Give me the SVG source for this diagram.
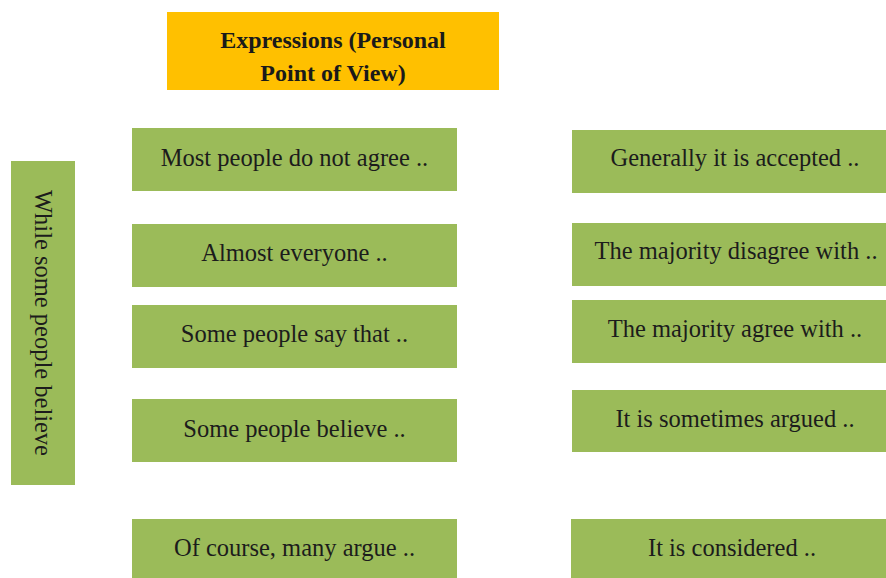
<svg xmlns="http://www.w3.org/2000/svg" width="886" height="578" viewBox="0 0 886 578">
<style>
.box{fill:#9BBB59;}
.t{font-family:'Liberation Serif','Times New Roman','DejaVu Serif',serif;font-size:24.5px;fill:#1c1c1c;text-anchor:middle;}
.title{font-family:'Liberation Serif','Times New Roman','DejaVu Serif',serif;font-size:24px;font-weight:bold;fill:#1a1a1a;text-anchor:middle;}
</style>
<rect width="886" height="578" fill="#ffffff"/>
<g id="title">
<rect x="167" y="12" width="332" height="78" fill="#FFC000"/>
<text class="title" x="333" y="48">Expressions (Personal</text>
<text class="title" x="333" y="81">Point of View)</text>
</g>
<g id="side">
<rect class="box" x="11" y="161" width="64" height="324"/>
<text class="t" transform="translate(35,323) rotate(90)">While some people believe</text>
</g>
<g id="l1"><rect class="box" x="132" y="128" width="325" height="63"/><text class="t" x="294.5" y="166">Most people do not agree ..</text></g>
<g id="l2"><rect class="box" x="132" y="224" width="325" height="63"/><text class="t" x="294.5" y="261">Almost everyone ..</text></g>
<g id="l3"><rect class="box" x="132" y="305" width="325" height="63"/><text class="t" x="294.5" y="342">Some people say that ..</text></g>
<g id="l4"><rect class="box" x="132" y="399" width="325" height="63"/><text class="t" x="294.5" y="437">Some people believe ..</text></g>
<g id="l5"><rect class="box" x="132" y="519" width="325" height="63"/><text class="t" x="294.5" y="556">Of course, many argue ..</text></g>
<g id="r1"><rect class="box" x="572" y="130" width="330" height="63"/><text class="t" x="735" y="166">Generally it is accepted ..</text></g>
<g id="r2"><rect class="box" x="572" y="223" width="330" height="63"/><text class="t" x="736" y="259">The majority disagree with ..</text></g>
<g id="r3"><rect class="box" x="572" y="300" width="330" height="63"/><text class="t" x="735" y="337">The majority agree with ..</text></g>
<g id="r4"><rect class="box" x="572" y="390" width="330" height="62"/><text class="t" x="735" y="427">It is sometimes argued ..</text></g>
<g id="r5"><rect class="box" x="571" y="519" width="330" height="63"/><text class="t" x="732" y="556">It is considered ..</text></g>
<g id="connectors"></g>
</svg>
